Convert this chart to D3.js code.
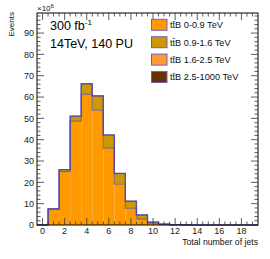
<!DOCTYPE html>
<html><head><meta charset="utf-8">
<script src="https://cdn.jsdelivr.net/npm/d3@7"></script>
<style>body{margin:0;background:#fff}svg{display:block}text{font-family:"Liberation Sans",Arial,sans-serif}</style>
</head><body>
<svg id="c" width="270" height="259"></svg>
<script>
const binCenters = [0,1,2,3,4,5,6,7,8,9,10,11,12,13,14,15,16,17,18,19];
const seriesNames = ["tt\u0304B 0-0.9 TeV","tt\u0304B 0.9-1.6 TeV","tt\u0304B 1.6-2.5 TeV","tt\u0304B 2.5-1000 TeV"];
const seriesColors = ["#ff9900","#cc9900","#ff9933","#663300"];
const s1 = [0.02,7.5,25.0,48.7,61.2,53.8,36.0,19.1,7.8,2.8,0.8,0.25,0.08,0.02,0,0,0,0,0,0];
const s2 = [0,0.1,1.0,2.3,5.0,6.7,6.1,5.0,3.3,1.9,0.55,0.2,0.06,0.02,0,0,0,0,0,0];
const s3 = [0,0,0,0.02,0.05,0.08,0.1,0.1,0.08,0.05,0.03,0.02,0.01,0,0,0,0,0,0,0];
const s4 = [0,0,0,0,0.01,0.02,0.03,0.03,0.02,0.02,0.01,0.01,0,0,0,0,0,0,0,0];
const series = [s1,s2,s3,s4];
const yTicks = [0,10,20,30,40,50,60,70,80,90];
const xTicks = [0,2,4,6,8,10,12,14,16,18];

const svg = d3.select("#c");
const L=37,R=258,T=13,B=225;
const x = d3.scaleLinear().domain([-0.5,19.5]).range([L,R]);
const y = d3.scaleLinear().domain([0,99.4]).range([B,T]);

const stackData = binCenters.map((c,i)=>{const o={c};series.forEach((s,k)=>o["s"+k]=s[i]);return o;});
const stack = d3.stack().keys(series.map((s,k)=>"s"+k))(stackData);
const g = svg.append("g");
stack.forEach((layer,k)=>{
  g.selectAll(null).data(layer).enter().append("rect")
    .attr("x",d=>x(d.data.c-0.5)).attr("width",d=>x(d.data.c+0.5)-x(d.data.c-0.5))
    .attr("y",d=>y(d[1])).attr("height",d=>Math.max(0,y(d[0])-y(d[1])))
    .attr("fill",seriesColors[k]);
});
stack.forEach((layer,k)=>{
  const pts=[];
  layer.forEach(d=>{pts.push([x(d.data.c-0.5),y(d[1])]);pts.push([x(d.data.c+0.5),y(d[1])]);});
  g.append("path").attr("d",d3.line()(pts)).attr("fill","none")
    .attr("stroke","#4b3fae").attr("stroke-opacity",0.55).attr("stroke-width",1.2);
});

svg.append("rect").attr("x",L).attr("y",T).attr("width",R-L).attr("height",B-T)
  .attr("fill","none").attr("stroke","#000").attr("stroke-width",1);

const tk = svg.append("g").attr("stroke","#333").attr("stroke-width",0.8);
d3.range(0,99.4,2).forEach(v=>{
  const len = v%10===0?7:3.5;
  tk.append("line").attr("x1",L).attr("x2",L+len).attr("y1",y(v)).attr("y2",y(v));
  tk.append("line").attr("x1",R).attr("x2",R-len).attr("y1",y(v)).attr("y2",y(v));
});
d3.range(-0.5,19.51,0.5).forEach(v=>{
  if(v<=-0.5||v>=19.5) return;
  const len = (v%2===0)?7:3.5;
  tk.append("line").attr("x1",x(v)).attr("x2",x(v)).attr("y1",B).attr("y2",B-len);
  tk.append("line").attr("x1",x(v)).attr("x2",x(v)).attr("y1",T).attr("y2",T+len);
});

svg.append("g").selectAll("text").data(yTicks).enter().append("text")
  .attr("x",34).attr("y",d=>y(d)+3.3).attr("text-anchor","end")
  .attr("font-size",9).attr("fill","#222").text(d=>d);
svg.append("g").selectAll("text").data(xTicks).enter().append("text")
  .attr("x",d=>x(d)).attr("y",234).attr("text-anchor","middle")
  .attr("font-size",9).attr("fill","#222").text(d=>d);

svg.append("text").attr("x",R).attr("y",244.5).attr("text-anchor","end")
  .attr("font-size",8.7).attr("fill","#111").text("Total number of jets");
svg.append("text").attr("transform","translate(14,12) rotate(-90)").attr("text-anchor","end")
  .attr("font-size",8).attr("fill","#111").text("Events");
const ex = svg.append("text").attr("x",37).attr("y",11).attr("font-size",8).attr("fill","#111");
ex.append("tspan").text("\u00d710");
ex.append("tspan").attr("dy",-3).attr("font-size",6).text("6");

const t1 = svg.append("text").attr("x",50).attr("y",30).attr("font-size",12.5).attr("fill","#000");
t1.append("tspan").text("300 fb");
t1.append("tspan").attr("dy",-5).attr("font-size",8).text("-1");
svg.append("text").attr("x",50).attr("y",48).attr("font-size",12.5).attr("fill","#000").text("14TeV, 140 PU");

const lg = svg.append("g");
seriesNames.forEach((n,i)=>{
  const cy = 24.8 + i*17.4;
  lg.append("rect").attr("x",151.5).attr("y",cy-5.5).attr("width",15.5).attr("height",11)
    .attr("fill",seriesColors[i]).attr("stroke","#6c63c0").attr("stroke-width",1);
  lg.append("text").attr("x",170).attr("y",cy+3.3).attr("font-size",9.2).attr("fill","#111").text(n);
});
</script>
</body></html>
